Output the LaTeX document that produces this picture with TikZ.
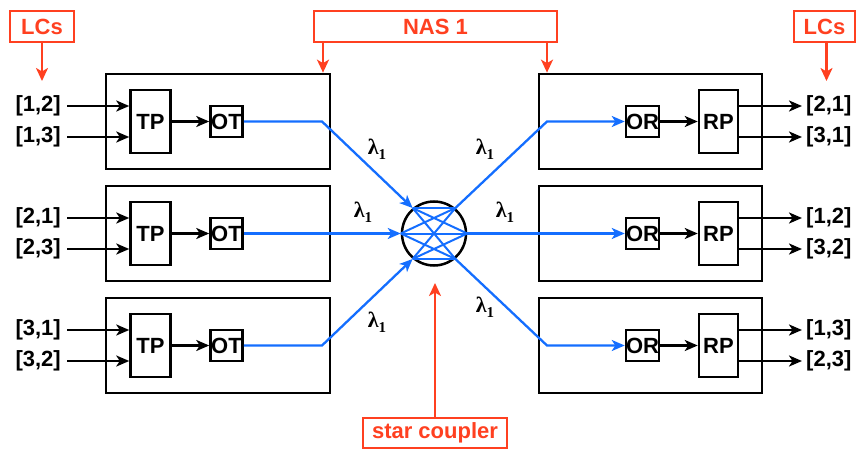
\documentclass[tikz,border=0pt]{standalone}
\usepackage{fontspec}
\setmainfont{Liberation Sans}
\newfontfamily\lamfont{Liberation Serif}
\usetikzlibrary{arrows.meta,calc}
\definecolor{redc}{RGB}{255,64,32}
\definecolor{bluec}{RGB}{20,110,255}
\newcommand{\lamone}{{\lamfont\bfseries λ\raisebox{-5pt}{\fontsize{15}{15}\selectfont 1}}}
\begin{document}
\begin{tikzpicture}[x=1pt,y=-1pt,
  txt/.style={font=\fontsize{22}{26}\selectfont\bfseries, inner sep=0pt},
  outerbox/.style={draw, line width=2.7pt, minimum width=224pt, minimum height=95pt, inner sep=0pt},
  procbox/.style={draw, line width=2.5pt, minimum width=40pt, minimum height=63pt, inner sep=0pt, txt},
  optbox/.style={draw, line width=2.5pt, minimum width=32pt, minimum height=31pt, inner sep=0pt, txt},
  lab/.style={txt, text=black},
  redbox/.style={draw=redc, line width=2.2pt, fill=white, text=redc, txt, minimum height=31pt, inner sep=0pt},
  blk/.style={line width=2.2pt, -{Stealth[length=13pt,width=11pt,inset=3.5pt]}},
  blu/.style={line width=2.3pt, draw=bluec, -{Stealth[length=13pt,width=11pt,inset=3.5pt]}, color=bluec},
  red/.style={line width=2.2pt, draw=redc, -{Stealth[length=13pt,width=12pt,inset=3.5pt]}, color=redc},
  lam/.style={font=\fontsize{22}{24}\selectfont, inner sep=0pt}
]
\useasboundingbox (0,0) rectangle (859,449);

% star coupler
\node[draw, circle, line width=2.5pt, minimum size=64pt, inner sep=0pt] (sc) at (434,233.5) {};
\foreach \a in {130,180,230}{
  \foreach \b in {50,0,-50}{
    \draw[bluec, line width=2pt] (sc.\a) -- (sc.\b);
  }
}

% rows
\foreach \i/\cy/\la/\lb/\ra/\rb in {1/121.5/{[1,2]}/{[1,3]}/{[2,1]}/{[3,1]},
                                   2/233.5/{[2,1]}/{[2,3]}/{[1,2]}/{[3,2]},
                                   3/345.5/{[3,1]}/{[3,2]}/{[1,3]}/{[2,3]}}{
  % left
  \node[outerbox] (L\i) at (218,\cy) {};
  \node[procbox] (TP\i) at (150.5,\cy) {TP};
  \node[optbox] (OT\i) at (226.5,\cy) {OT};
  \node[lab, anchor=east] (ia\i) at (61,\cy-15.5) {\la};
  \node[lab, anchor=east] (ib\i) at (61,\cy+15.5) {\lb};
  \draw[blk] ($(ia\i.east)+(6,0)$) -- (TP\i.west |- ia\i.east);
  \draw[blk] ($(ib\i.east)+(6,0)$) -- (TP\i.west |- ib\i.east);
  \draw[blk] (TP\i.east) -- (OT\i.west);
  % right
  \node[outerbox, minimum width=223pt] (R\i) at (650.5,\cy) {};
  \node[optbox, minimum width=31pt] (OR\i) at (642.5,\cy) {OR};
  \node[procbox, minimum width=39pt] (RP\i) at (718.5,\cy) {RP};
  \node[lab, anchor=west] (oa\i) at (806,\cy-15.5) {\ra};
  \node[lab, anchor=west] (ob\i) at (806,\cy+15.5) {\rb};
  \draw[blk] (RP\i.east |- oa\i.west) -- ($(oa\i.west)+(-4,0)$);
  \draw[blk] (RP\i.east |- ob\i.west) -- ($(ob\i.west)+(-4,0)$);
  \draw[blk] (OR\i.east) -- (RP\i.west);
}

% blue fibres
\coordinate (bl1) at (322,121.5);
\coordinate (bl3) at (322,345.5);
\coordinate (br1) at (547,121.5);
\coordinate (br3) at (547,345.5);
\draw[blu] (OT1.east) -- (bl1) -- (sc.130);
\draw[blu] (OT2.east) -- (sc.180);
\draw[blu] (OT3.east) -- (bl3) -- (sc.230);
\draw[blu] (sc.50) -- (br1) -- (OR1.west);
\draw[blu] (sc.0) -- (OR2.west);
\draw[blu] (sc.-50) -- (br3) -- (OR3.west);

% lambda labels
\node[lam] (lm1) at (377,149) {\lamone};
\node[lam] (lm2) at (363,212) {\lamone};
\node[lam] (lm3) at (377,322) {\lamone};
\node[lam] (lm4) at (485,149) {\lamone};
\node[lam] (lm5) at (505,212) {\lamone};
\node[lam] (lm6) at (485,307) {\lamone};

% red annotations
\node[redbox, minimum width=64pt] (lcl) at (42,26.5) {LCs};
\node[redbox, minimum width=61pt] (lcr) at (824.5,26.5) {LCs};
\node[redbox, minimum width=243pt] (nas) at (435.5,26.5) {NAS 1};
\node[redbox, minimum width=144pt, minimum height=30pt] (stc) at (435,433) {star coupler};
\coordinate (lclt) at (42,81);
\coordinate (lcrt) at (826.5,81);
\draw[red] (lcl.south) -- (lclt);
\draw[red] (lcr.south -| lcrt) -- (lcrt);
\draw[red] (nas.south -| 323,0) -- (L1.north -| 323,0);
\draw[red] (nas.south -| 547,0) -- (R1.north -| 547,0);
\coordinate (stct) at (435,283);
\draw[red] (stc.north) -- (stct);
\end{tikzpicture}
\end{document}
